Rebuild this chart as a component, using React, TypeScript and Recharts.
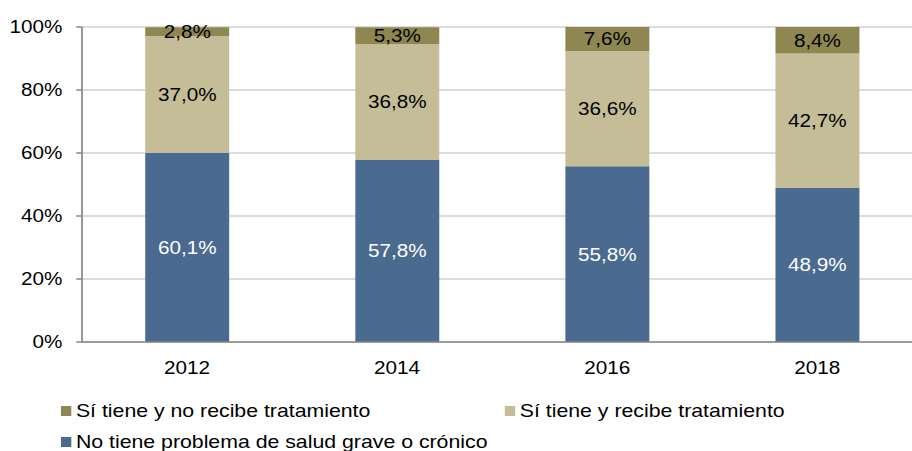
import React from "react";
import { BarChart, Bar, XAxis, YAxis, CartesianGrid, LabelList } from "recharts";

const years = ["2012", "2014", "2016", "2018"];
const noProblem = [60.1, 57.8, 55.8, 48.9];
const withTreatment = [37.0, 36.8, 36.6, 42.7];
const noTreatment = [2.8, 5.3, 7.6, 8.4];
const yTicks = [0, 20, 40, 60, 80, 100];

const SERIES = [
  { key: "noProblem", name: "No tiene problema de salud grave o crónico", color: "#4a6a90", text: "#ffffff" },
  { key: "withTreatment", name: "Sí tiene y recibe tratamiento", color: "#c4bd97", text: "#000000" },
  { key: "noTreatment", name: "Sí tiene y no recibe tratamiento", color: "#8f8751", text: "#000000" },
];

const data = years.map((year, i) => ({
  year,
  noProblem: noProblem[i],
  withTreatment: withTreatment[i],
  noTreatment: noTreatment[i],
}));

// the reference is a horizontally stretched picture, so the chart is drawn narrower and stretched back
const STRETCH = 1.15;
const FONT = "'Liberation Sans', Arial, sans-serif";

const fmt = (v: number) => v.toFixed(1).replace(".", ",") + "%";

function LegendRow({ items, top }: { items: { s: (typeof SERIES)[number]; x: number }[]; top: number }) {
  return (
    <>
      {items.map(({ s, x }) => (
        <div
          key={s.key}
          style={{ position: "absolute", left: x, top, height: 20, display: "flex", alignItems: "center", fontSize: 18.5, whiteSpace: "nowrap" }}
        >
          <span style={{ width: 9, height: 10, background: s.color, marginRight: 4, display: "inline-block" }} />
          <span>{s.name}</span>
        </div>
      ))}
    </>
  );
}

export default function App() {
  return (
    <div style={{ width: 912, height: 451, overflow: "hidden", position: "relative", background: "#fff", fontFamily: FONT }}>
      <style>{`body{margin:0}`}</style>
      <div style={{ width: 802, height: 451, transform: `scaleX(${STRETCH})`, transformOrigin: "0 0", position: "relative" }}>
        <BarChart width={802} height={451} data={data} margin={{ top: 27, right: 0, bottom: 79, left: 0 }}>
          <CartesianGrid vertical={false} stroke="#d0d0d0" strokeWidth={1.5} />
          <XAxis
            dataKey="year"
            height={30}
            tickLine={false}
            axisLine={{ stroke: "#878787", strokeWidth: 1.5 }}
            tick={{ fill: "#000", fontSize: 18, fontFamily: FONT }}
            tickMargin={13}
          />
          <YAxis
            width={71.3}
            domain={[0, 100]}
            ticks={yTicks}
            tickFormatter={(v) => v + "%"}
            axisLine={{ stroke: "#878787", strokeWidth: 1.5 }}
            tickLine={{ stroke: "#878787", strokeWidth: 1.5 }}
            tickSize={5}
            tickMargin={12}
            tick={{ fill: "#000", fontSize: 18, fontFamily: FONT }}
          />
          {SERIES.map((s) => (
            <Bar key={s.key} dataKey={s.key} stackId="a" fill={s.color} barSize={73} isAnimationActive={false}>
              <LabelList
                dataKey={s.key}
                position="center"
                formatter={(v: any) => fmt(Number(v))}
                fill={s.text}
                style={{ fontSize: 18, fontFamily: FONT }}
              />
            </Bar>
          ))}
        </BarChart>
        <LegendRow items={[{ s: SERIES[2], x: 53 }, { s: SERIES[1], x: 439 }]} top={401} />
        <LegendRow items={[{ s: SERIES[0], x: 53 }]} top={432} />
      </div>
    </div>
  );
}
